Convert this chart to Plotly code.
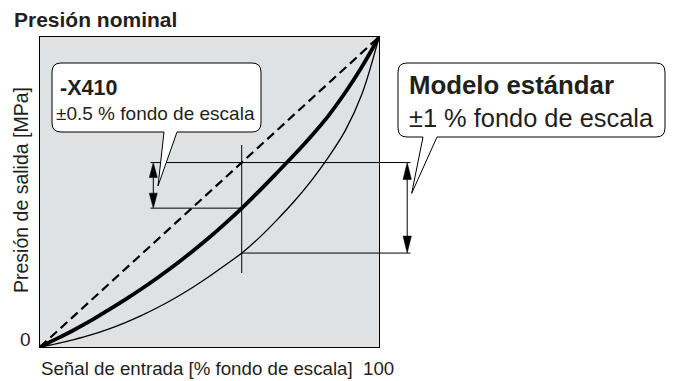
import numpy as np
import plotly.graph_objects as go

# ---- data (percent of full scale) ----
signal = [0, 5, 10, 15, 20, 25, 30, 35, 40, 45, 50, 55, 60, 65, 70, 75, 80, 85, 90, 95, 100]
ideal = [0, 5, 10, 15, 20, 25, 30, 35, 40, 45, 50, 55, 60, 65, 70, 75, 80, 85, 90, 95, 100]
x410_out = [0, 2.7, 5.5, 8.5, 11.8, 15.2, 18.8, 22.6, 26.6, 30.9, 35.4, 40.2, 45.3,
            50.7, 56.3, 62, 68, 74.5, 82, 90.5, 100]
std_out = [0, 1.1, 2.4, 3.9, 5.7, 7.8, 10.2, 12.9, 15.9, 19.2, 22.8, 26.7, 30.7,
           35.6, 41.1, 47.0, 53.6, 61.1, 69.7, 81.7, 100]
probe_signal = 59.5

# ---- figure geometry ----
W, H = 675, 381
ML, MR, MT, MB = 40, 296, 37, 34
PW, PH = W - ML - MR, H - MT - MB


def X(px):
    return (px - ML) / PW


def Y(py):
    return (H - MB - py) / PH


fig = go.Figure()
fig.add_trace(go.Scatter(x=signal, y=ideal, mode="lines",
                         line=dict(color="black", width=2.2, dash="9px,5px"),
                         hoverinfo="skip"))
fig.add_trace(go.Scatter(x=signal, y=std_out, mode="lines", line_shape="spline",
                         line=dict(color="black", width=1.3), hoverinfo="skip"))
fig.add_trace(go.Scatter(x=signal, y=x410_out, mode="lines", line_shape="spline",
                         line=dict(color="black", width=3.8), hoverinfo="skip"))

lvl_top = float(np.interp(probe_signal, signal, ideal)) / 100
lvl_mid = float(np.interp(probe_signal, signal, x410_out)) / 100
lvl_bot = float(np.interp(probe_signal, signal, std_out)) / 100
xp = probe_signal / 100

shapes = []
line = dict(color="black", width=1)


def seg(x0, y0, x1, y1):
    shapes.append(dict(type="line", xref="paper", yref="paper", x0=x0, y0=y0,
                       x1=x1, y1=y1, line=line, layer="above"))


x_left_start = X(150.5)
x_right_end = X(410.5)
seg(x_left_start, lvl_top, x_right_end, lvl_top)
seg(x_left_start, lvl_mid, xp, lvl_mid)
seg(xp, lvl_bot, x_right_end, lvl_bot)
seg(xp, Y(145), xp, Y(273))


def double_arrow(xa, ya, yb, L=15, w=4):
    dx, dy = w / PW, L / PH
    hi, lo = max(ya, yb), min(ya, yb)
    seg(xa, hi - dy * 0.8, xa, lo + dy * 0.8)
    for tip, base in ((hi, hi - dy), (lo, lo + dy)):
        shapes.append(dict(type="path", xref="paper", yref="paper",
                           path=f"M {xa} {tip} L {xa - dx} {base} L {xa + dx} {base} Z",
                           fillcolor="black", line=dict(color="black", width=0.5),
                           layer="above"))


double_arrow(X(153.3), lvl_top, lvl_mid, L=15, w=4)
double_arrow(X(407.2), lvl_top, lvl_bot, L=17, w=4.2)


def callout(x0, y0, x1, y1, ta, tb, tip, r=9):
    P = lambda px, py: f"{X(px)} {Y(py)}"
    d = (f"M {P(x0 + r, y0)} L {P(x1 - r, y0)} Q {P(x1, y0)} {P(x1, y0 + r)} "
         f"L {P(x1, y1 - r)} Q {P(x1, y1)} {P(x1 - r, y1)} "
         f"L {P(tb, y1)} L {P(tip[0], tip[1])} L {P(ta, y1)} "
         f"L {P(x0 + r, y1)} Q {P(x0, y1)} {P(x0, y1 - r)} "
         f"L {P(x0, y0 + r)} Q {P(x0, y0)} {P(x0 + r, y0)} Z")
    shapes.append(dict(type="path", xref="paper", yref="paper", path=d,
                       fillcolor="white", line=dict(color="black", width=1),
                       layer="above"))


callout(52, 63, 261, 132, 164, 177, (158, 186))
callout(398, 63, 665, 137, 423, 437, (411.7, 193.3))

FONT = "Liberation Sans, Arial, Helvetica, sans-serif"


def txt(px, py, s, size, bold=False, xanchor="left", angle=0):
    return dict(x=X(px), y=Y(py), xref="paper", yref="paper",
                text=f"<b>{s}</b>" if bold else s, showarrow=False,
                xanchor=xanchor, yanchor="middle", textangle=angle,
                font=dict(family=FONT, size=size, color="#231f20"))


annotations = [
    txt(12, 20, "Presión nominal", 21, bold=True),
    txt(21, 190, "Presión de salida [MPa]", 19.5, xanchor="center", angle=-90),
    txt(33, 339, "0", 19, xanchor="right"),
    txt(39, 368, "Señal de entrada [% fondo de escala]", 18.7),
    txt(378, 368, "100", 18.7, xanchor="center"),
    txt(58, 87.5, "-X410", 21.5, bold=True),
    txt(54, 113.5, "±0.5 % fondo de escala", 19),
    txt(407, 85, "Modelo estándar", 25.8, bold=True),
    txt(407, 118, "±1 % fondo de escala", 25.4),
]

fig.update_layout(
    width=W, height=H, margin=dict(l=ML, r=MR, t=MT, b=MB, pad=0),
    paper_bgcolor="white", plot_bgcolor="#e0e1e3", showlegend=False,
    shapes=shapes, annotations=annotations,
    xaxis=dict(range=[0, 100], showgrid=False, zeroline=False, showticklabels=False,
               ticks="", showline=True, mirror=True, linecolor="black", linewidth=1.3,
               fixedrange=True),
    yaxis=dict(range=[0, 100], showgrid=False, zeroline=False, showticklabels=False,
               ticks="", showline=True, mirror=True, linecolor="black", linewidth=1.3,
               fixedrange=True),
)

fig.write_html("out.html", config={"displayModeBar": False},
               post_script="document.body.style.margin='0';")
